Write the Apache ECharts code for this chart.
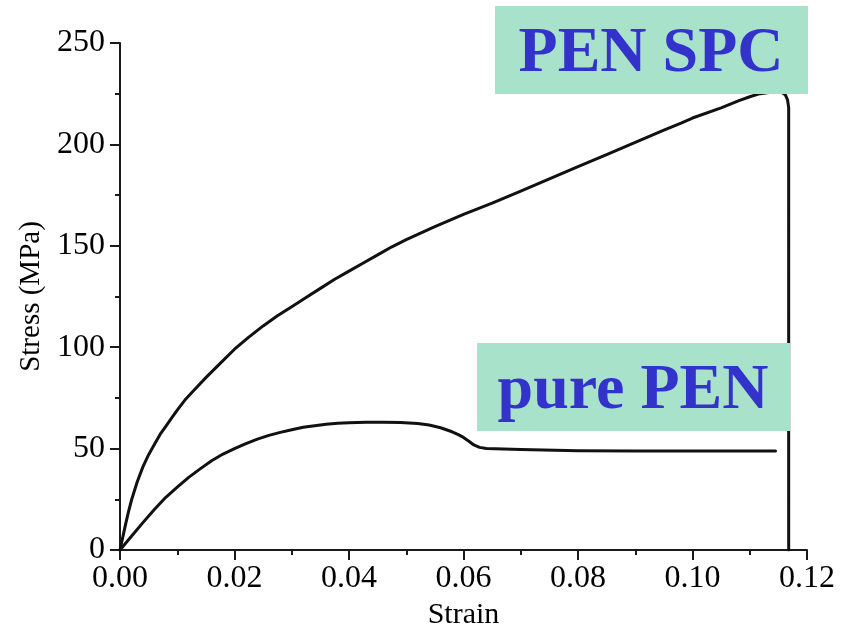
<!DOCTYPE html>
<html>
<head>
<meta charset="utf-8">
<script src="https://cdn.jsdelivr.net/npm/echarts@6/dist/echarts.min.js"></script>
<style>html,body{margin:0;padding:0;background:#fff;}#c{width:860px;height:626px;}</style>
</head>
<body>
<div id="c"></div>
<script>
// Strain values and stress (MPa) for PEN SPC
const spcStrain = [0, 0.0005, 0.001, 0.0015, 0.002, 0.003, 0.004, 0.005, 0.006, 0.007, 0.008, 0.009, 0.010, 0.0115, 0.013, 0.015, 0.0175, 0.020, 0.0225, 0.025, 0.0275, 0.030, 0.0325, 0.035, 0.0375, 0.040, 0.0425, 0.045, 0.0475, 0.050, 0.055, 0.060, 0.065, 0.070, 0.075, 0.080, 0.085, 0.090, 0.095, 0.098, 0.100, 0.105, 0.108, 0.110, 0.1115, 0.113, 0.1145, 0.1155, 0.1162, 0.1166, 0.1168, 0.1168];
const spcStress = [0, 6.5, 13, 19, 24.5, 33.5, 41, 47, 52, 57, 61, 65, 69, 74.5, 79, 85, 92, 99, 105, 110.5, 115.5, 120, 124.5, 129, 133.5, 137.5, 141.5, 145.5, 149.5, 153, 159.5, 165.5, 171, 177, 183, 189, 195, 201, 207, 210.5, 213, 218, 221.5, 223.5, 224.8, 225.5, 226, 225.8, 224.5, 222, 218, 0];
// Strain values and stress (MPa) for pure PEN
const penStrain = [0, 0.002, 0.004, 0.006, 0.008, 0.010, 0.012, 0.014, 0.016, 0.018, 0.020, 0.022, 0.024, 0.026, 0.028, 0.030, 0.032, 0.034, 0.036, 0.038, 0.040, 0.043, 0.046, 0.049, 0.052, 0.054, 0.056, 0.058, 0.059, 0.060, 0.061, 0.0618, 0.0628, 0.064, 0.067, 0.070, 0.080, 0.090, 0.100, 0.1145];
const penStress = [0, 6.8, 13.5, 20, 26, 31, 35.8, 40, 44, 47.3, 50, 52.5, 54.7, 56.5, 58, 59.3, 60.5, 61.3, 62, 62.5, 62.8, 63, 63, 62.9, 62.4, 61.6, 60.3, 58.3, 57, 55.5, 53.5, 51.8, 50.6, 50.1, 49.8, 49.6, 49, 48.8, 48.8, 48.8];
const xTicks = [0, 0.02, 0.04, 0.06, 0.08, 0.10, 0.12];
const yTicks = [0, 50, 100, 150, 200, 250];
const labelSPC = "PEN SPC";
const labelPEN = "pure PEN";

const zip = (a, b) => a.map((v, i) => [v, b[i]]);
const chart = echarts.init(document.getElementById('c'), null, {renderer: 'canvas'});
const serif = '"Liberation Serif", "DejaVu Serif", serif';
const axisCol = '#1a1a1a';

chart.setOption({
  animation: false,
  backgroundColor: '#fff',
  grid: {left: 120, right: 53, top: 43, bottom: 76, containLabel: false, outerBoundsMode: 'none'},
  xAxis: {
    type: 'value', min: xTicks[0], max: xTicks[xTicks.length - 1], interval: 0.02,
    name: 'Strain', nameLocation: 'middle', nameGap: 44,
    nameTextStyle: {fontFamily: serif, fontSize: 30, color: '#000'},
    axisLine: {show: true, lineStyle: {color: axisCol, width: 2}},
    axisTick: {show: true, length: 10, lineStyle: {color: axisCol, width: 2}},
    minorTick: {show: true, splitNumber: 2, length: 5, lineStyle: {color: axisCol, width: 2}},
    splitLine: {show: false},
    axisLabel: {fontFamily: serif, fontSize: 32, color: '#000', margin: 13,
      formatter: v => v.toFixed(2)}
  },
  yAxis: {
    type: 'value', min: yTicks[0], max: yTicks[yTicks.length - 1], interval: 50,
    name: 'Stress (MPa)', nameLocation: 'middle', nameGap: 74,
    nameTextStyle: {fontFamily: serif, fontSize: 29, color: '#000'},
    axisLine: {show: true, lineStyle: {color: axisCol, width: 2}},
    axisTick: {show: true, length: 10, lineStyle: {color: axisCol, width: 2}},
    minorTick: {show: true, splitNumber: 2, length: 5, lineStyle: {color: axisCol, width: 2}},
    splitLine: {show: false},
    axisLabel: {fontFamily: serif, fontSize: 32, color: '#000', margin: 15}
  },
  series: [
    {type: 'line', name: labelSPC, data: zip(spcStrain, spcStress), showSymbol: false,
     lineStyle: {color: '#111', width: 3, join: 'round', cap: 'round'}, smooth: false, z: 3},
    {type: 'line', name: labelPEN, data: zip(penStrain, penStress), showSymbol: false,
     lineStyle: {color: '#111', width: 3, join: 'round', cap: 'round'}, smooth: false, z: 3}
  ],
  graphic: [
    {type: 'rect', left: 495, top: 6, shape: {width: 313, height: 88}, style: {fill: '#A9E2CB'}, z: 10},
    {type: 'text', x: 651, y: 54, z: 11, style: {text: labelSPC, fill: '#3333CC',
      font: 'bold 64px ' + serif, textAlign: 'center', textVerticalAlign: 'middle'}},
    {type: 'rect', left: 477, top: 343, shape: {width: 313, height: 88}, style: {fill: '#A9E2CB'}, z: 10},
    {type: 'text', x: 633, y: 391, z: 11, style: {text: labelPEN, fill: '#3333CC',
      font: 'bold 64px ' + serif, textAlign: 'center', textVerticalAlign: 'middle'}}
  ]
});
</script>
</body>
</html>
